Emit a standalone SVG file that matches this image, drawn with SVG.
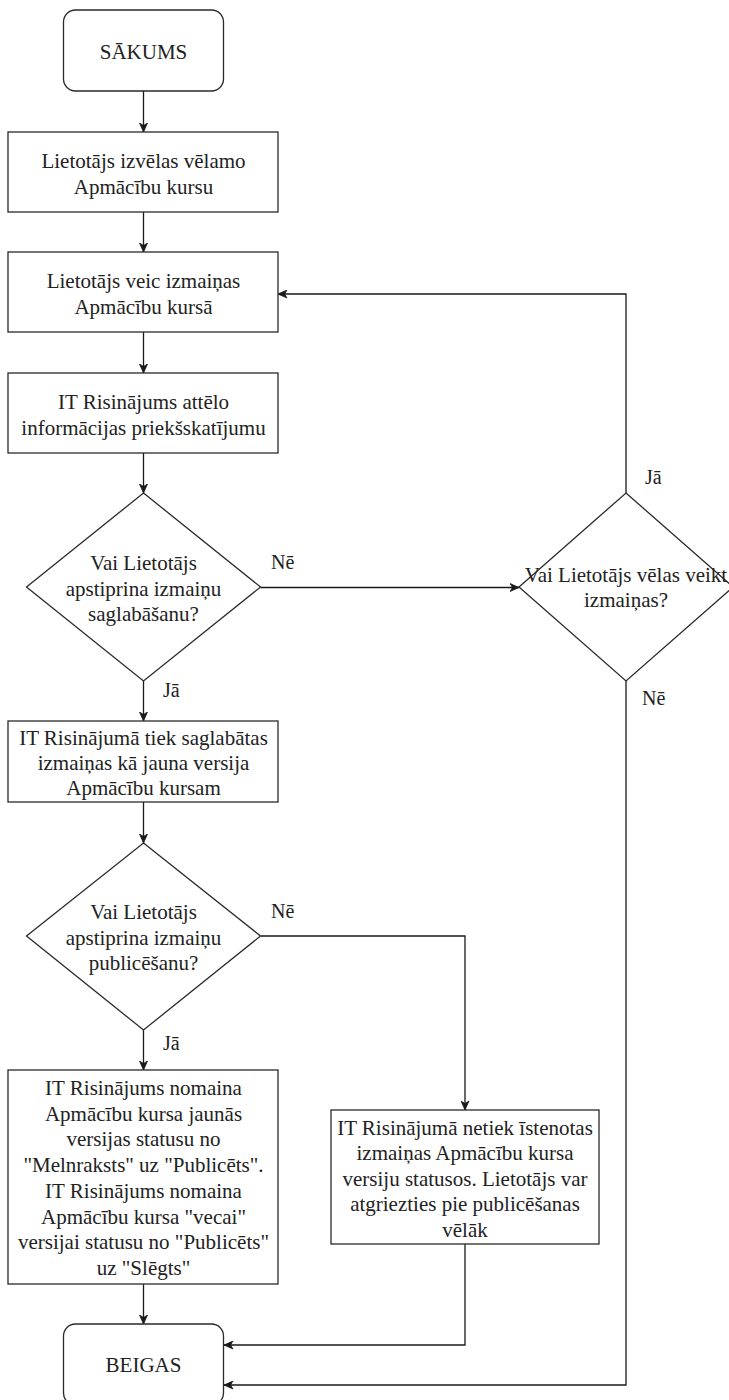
<svg xmlns="http://www.w3.org/2000/svg" width="729" height="1400" viewBox="0 0 729 1400" font-family="'Liberation Serif', 'DejaVu Serif', serif">
<style>
.shape{fill:#ffffff;stroke:#2a2a2a;stroke-width:1.3}
.edge{fill:none;stroke:#1a1a1a;stroke-width:1.3}
text{font-family:'Liberation Serif','DejaVu Serif',serif;font-size:21px;fill:#222;text-anchor:middle}
.lbl{font-size:20px;text-anchor:start}
</style>
<defs>
<marker id="arr" markerUnits="userSpaceOnUse" markerWidth="11" markerHeight="9" refX="9.5" refY="4.5" orient="auto">
<path d="M0.5,0.5 L9.5,4.5 L0.5,8.5 L3,4.5 Z" fill="#1a1a1a" stroke="#1a1a1a" stroke-width="0.8"/>
</marker>
</defs>
<rect width="729" height="1400" fill="#ffffff"/>
<g id="connectors">
<path class="edge" d="M143.5,91 V132" marker-end="url(#arr)"/>
<path class="edge" d="M143.5,212 V252" marker-end="url(#arr)"/>
<path class="edge" d="M143.5,332 V373" marker-end="url(#arr)"/>
<path class="edge" d="M143.5,453 V493" marker-end="url(#arr)"/>
<path class="edge" d="M260.5,587.5 H519" marker-end="url(#arr)"/>
<path class="edge" d="M143.5,681 V721" marker-end="url(#arr)"/>
<path class="edge" d="M143.5,802 V843" marker-end="url(#arr)"/>
<path class="edge" d="M143.5,1030 V1070" marker-end="url(#arr)"/>
<path class="edge" d="M143.5,1284 V1324" marker-end="url(#arr)"/>
<path class="edge" d="M260.5,936 H465 V1110" marker-end="url(#arr)"/>
<path class="edge" d="M465,1244 V1345 H224" marker-end="url(#arr)"/>
<path class="edge" d="M626,493 V294 H278" marker-end="url(#arr)"/>
<path class="edge" d="M626,681 V1385 H224" marker-end="url(#arr)"/>
<text class="lbl" x="271" y="569">Nē</text>
<text class="lbl" x="645" y="484">Jā</text>
<text class="lbl" x="642" y="705">Nē</text>
<text class="lbl" x="163" y="697">Jā</text>
<text class="lbl" x="271" y="918">Nē</text>
<text class="lbl" x="163" y="1050">Jā</text>
</g>
<g id="start">
<rect class="shape" x="63.5" y="10" width="160" height="81" rx="12"/>
<text x="143.5" y="59">SĀKUMS</text>
</g>
<g id="select-course">
<rect class="shape" x="8" y="132" width="270" height="80"/>
<text x="143.5" y="168">Lietotājs izvēlas vēlamo</text>
<text x="143.5" y="194">Apmācību kursu</text>
</g>
<g id="edit-course">
<rect class="shape" x="8" y="252" width="270" height="80"/>
<text x="143.5" y="288">Lietotājs veic izmaiņas</text>
<text x="143.5" y="314">Apmācību kursā</text>
</g>
<g id="preview">
<rect class="shape" x="8" y="373" width="270" height="80"/>
<text x="143.5" y="409">IT Risinājums attēlo</text>
<text x="143.5" y="435">informācijas priekšskatījumu</text>
</g>
<g id="confirm-save">
<polygon class="shape" points="143.5,493 260.5,587 143.5,681 26.5,587"/>
<text x="143.5" y="570">Vai Lietotājs</text>
<text x="143.5" y="595.5">apstiprina izmaiņu</text>
<text x="143.5" y="621">saglabāšanu?</text>
</g>
<g id="want-changes">
<polygon class="shape" points="626,493 733,587 626,681 519,587"/>
<text x="626" y="582">Vai Lietotājs vēlas veikt</text>
<text x="626" y="607">izmaiņas?</text>
</g>
<g id="save-version">
<rect class="shape" x="8" y="721" width="270" height="81"/>
<text x="143.5" y="745">IT Risinājumā tiek saglabātas</text>
<text x="143.5" y="770">izmaiņas kā jauna versija</text>
<text x="143.5" y="795">Apmācību kursam</text>
</g>
<g id="confirm-publish">
<polygon class="shape" points="143.5,843 260.5,936 143.5,1030 26.5,936"/>
<text x="143.5" y="919">Vai Lietotājs</text>
<text x="143.5" y="944.5">apstiprina izmaiņu</text>
<text x="143.5" y="970">publicēšanu?</text>
</g>
<g id="publish">
<rect class="shape" x="8" y="1070" width="270" height="214"/>
<text x="143.5" y="1095">IT Risinājums nomaina</text>
<text x="143.5" y="1120.7">Apmācību kursa jaunās</text>
<text x="143.5" y="1146.4">versijas statusu no</text>
<text x="143.5" y="1172.1">"Melnraksts" uz "Publicēts".</text>
<text x="143.5" y="1197.8">IT Risinājums nomaina</text>
<text x="143.5" y="1223.5">Apmācību kursa "vecai"</text>
<text x="143.5" y="1249.2">versijai statusu no "Publicēts"</text>
<text x="143.5" y="1274.9">uz "Slēgts"</text>
</g>
<g id="no-publish">
<rect class="shape" x="331" y="1110" width="268" height="134"/>
<text x="465" y="1135">IT Risinājumā netiek īstenotas</text>
<text x="465" y="1160.4">izmaiņas Apmācību kursa</text>
<text x="465" y="1185.8">versiju statusos. Lietotājs var</text>
<text x="465" y="1211.2">atgriezties pie publicēšanas</text>
<text x="465" y="1236.6">vēlāk</text>
</g>
<g id="end">
<rect class="shape" x="63.5" y="1324" width="160" height="81" rx="12"/>
<text x="143.5" y="1372">BEIGAS</text>
</g>
</svg>
